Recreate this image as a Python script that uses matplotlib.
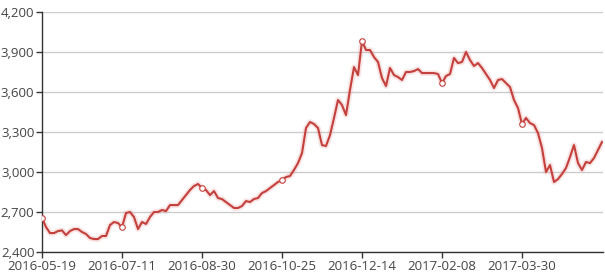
import matplotlib
matplotlib.use("Agg")
import matplotlib.pyplot as plt
from matplotlib.ticker import FuncFormatter

tick_labels = ["2016-05-19", "2016-07-11", "2016-08-30", "2016-10-25",
               "2016-12-14", "2017-02-08", "2017-03-30"]
values = [
    2655, 2587, 2542, 2542, 2557, 2562, 2527, 2557, 2572, 2572,
    2550, 2535, 2505, 2497, 2497, 2520, 2520, 2602, 2625, 2617,
    2587, 2692, 2700, 2662, 2572, 2625, 2610, 2662, 2700, 2700,
    2715, 2707, 2752, 2752, 2752, 2790, 2827, 2865, 2895, 2910,
    2880, 2865, 2827, 2857, 2805, 2797, 2775, 2752, 2730, 2730,
    2745, 2782, 2775, 2797, 2805, 2842, 2857, 2880, 2902, 2925,
    2940, 2962, 2970, 3015, 3067, 3142, 3330, 3375, 3360, 3330,
    3202, 3195, 3277, 3405, 3540, 3502, 3427, 3615, 3787, 3727,
    3982, 3915, 3915, 3862, 3825, 3705, 3645, 3780, 3727, 3712,
    3690, 3750, 3750, 3757, 3772, 3742, 3742, 3742, 3742, 3735,
    3667, 3720, 3735, 3855, 3817, 3825, 3900, 3840, 3795, 3817,
    3780, 3735, 3690, 3630, 3690, 3697, 3667, 3637, 3540, 3480,
    3360, 3405, 3367, 3352, 3292, 3180, 3000, 3052, 2925, 2947,
    2985, 3030, 3112, 3202, 3067, 3015, 3075, 3067, 3105, 3165,
    3225,
]
label_step = 20
y_ticks = [2400, 2700, 3000, 3300, 3600, 3900, 4200]

plt.rcParams['font.family'] = ['Open Sans', 'DejaVu Sans']

fig = plt.figure(figsize=(6.05, 2.78), dpi=100)
ax = fig.add_axes([42/605, 1-252/278, 561/605, 240/278])

x = list(range(len(values)))
tick_pos = list(range(0, label_step * len(tick_labels), label_step))
ax.plot(x, values, color='#e8a0a0', lw=4, alpha=0.3, solid_capstyle='round', zorder=2)
ax.plot(x, values, color='#c4403c', lw=1.5, zorder=3)
ax.plot(tick_pos, [values[i] for i in tick_pos], linestyle='none', marker='o', ms=4,
        mfc='white', mec='#c4403c', mew=0.8, zorder=4)

ax.set_xlim(0, (len(values) - 1) + 0.25)
ax.set_ylim(2400, 4200)
ax.set_yticks(y_ticks)
ax.yaxis.set_major_formatter(FuncFormatter(lambda v, p: f"{int(v):,}"))
ax.set_xticks(tick_pos)
ax.set_xticklabels(tick_labels)

ax.grid(axis='y', color='#cccccc', lw=1)
ax.set_axisbelow(True)
for s in ['top', 'right']:
    ax.spines[s].set_visible(False)
for s in ['left', 'bottom']:
    ax.spines[s].set_color('#333333')
    ax.spines[s].set_linewidth(1)
ax.tick_params(axis='both', colors='#333333', labelcolor='#444444', labelsize=9.5,
               length=4, width=1, pad=1.5)

fig.savefig('out.png', dpi=100)
